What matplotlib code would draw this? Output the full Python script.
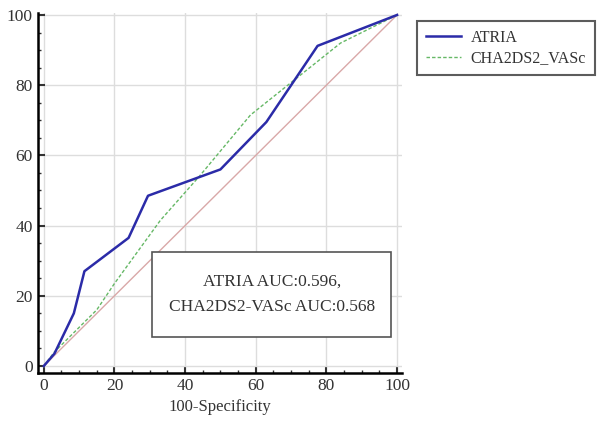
import matplotlib
matplotlib.use("Agg")
import matplotlib.pyplot as plt
from matplotlib.patches import Rectangle
from matplotlib.ticker import MultipleLocator

plt.rcParams['font.family'] = ['Liberation Serif', 'DejaVu Serif']

# ROC points (100-specificity, sensitivity)
atria_x = [0, 3, 8.5, 11.5, 24, 29.5, 50, 63, 77.5, 100]
atria_y = [0, 3.5, 15, 27, 36.5, 48.5, 56, 69.5, 91.2, 100]
cha_x = [0, 3, 15, 20, 33, 44, 58.5, 84, 100]
cha_y = [0, 4, 16, 23.5, 41.5, 54, 71.5, 92, 100]
diag = [0, 100]
legend_names = ['ATRIA', 'CHA2DS2_VASc']
auc_text = 'ATRIA AUC:0.596,\nCHA2DS2-VASc AUC:0.568'

fig = plt.figure(figsize=(6, 4.29), dpi=100)
ax = fig.add_axes([0.063, 0.1305, 0.607, 0.8395])

ax.plot(diag, diag, color='#d9a8a8', lw=1.0, zorder=2)
ax.plot(atria_x, atria_y, color='#2b2ba8', lw=1.8, label=legend_names[0], zorder=4)
ax.plot(cha_x, cha_y, color='#66b866', lw=1.0, ls=(0, (2.5, 1.5)), label=legend_names[1], zorder=3)

ax.set_xlim(-1.7, 101.4)
ax.set_ylim(-2, 100.6)
ax.xaxis.set_major_locator(MultipleLocator(20))
ax.yaxis.set_major_locator(MultipleLocator(20))
ax.xaxis.set_minor_locator(MultipleLocator(5))
ax.yaxis.set_minor_locator(MultipleLocator(5))
ax.grid(True, which='major', color='#dddddd', lw=1.0)
ax.set_axisbelow(True)

for s in ['top', 'right']:
    ax.spines[s].set_visible(False)
for s in ['left', 'bottom']:
    ax.spines[s].set_linewidth(1.8)
ax.tick_params(which='major', direction='in', length=5, width=1.5, labelsize=12.5, colors='#333333')
ax.tick_params(which='minor', direction='in', length=2.5, width=1.0, colors='#333333')

ax.set_xlabel('100-Specificity', fontsize=12, color='#333333')

ax.add_patch(Rectangle((30.6, 8.3), 67.7, 24.2, fill=True, facecolor='white',
                       edgecolor='#555555', lw=1.2, zorder=5))
ax.text(64.5, 20.4, auc_text, ha='center', va='center', fontsize=12.5,
        color='#333333', linespacing=1.75, zorder=6)

leg = fig.legend(loc='upper left', bbox_to_anchor=(0.695, 0.951), fontsize=11.5,
                 frameon=True, fancybox=False, handlelength=2.2, borderpad=0.55,
                 labelspacing=0.3, handletextpad=0.6, borderaxespad=0)
leg.get_frame().set_edgecolor('#333333')
leg.get_frame().set_linewidth(1.5)
for t in leg.get_texts():
    t.set_color('#333333')

fig.savefig('out.png', dpi=100)
